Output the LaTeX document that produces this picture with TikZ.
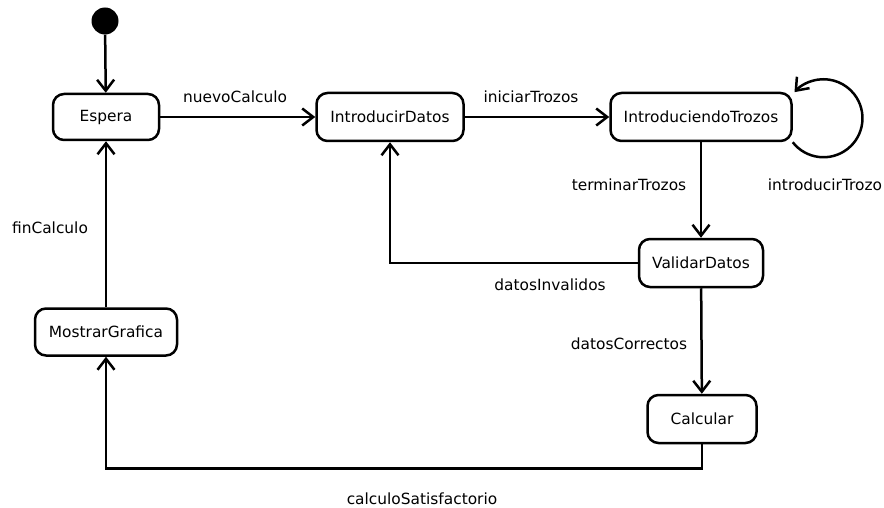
\documentclass[tikz,border=0pt]{standalone}
\usepackage{fontspec}
\setmainfont{DejaVu Sans}
\usetikzlibrary{arrows.meta}

\begin{document}
\begin{tikzpicture}[x=1pt,y=-1pt,
  state/.style={draw, line width=2.5pt, rounded corners=11pt, fill=white,
    inner sep=0pt, font=\fontsize{15.4}{18}\selectfont},
  lbl/.style={inner sep=0pt, font=\fontsize{15.4}{18}\selectfont},
  trans/.style={line width=2.5pt, -{Straight Barb[length=11pt,width=17pt,line width=2.5pt]}},
  initstate/.style={circle, fill=black, minimum size=27pt, inner sep=0pt}]

\useasboundingbox (0,0) rectangle (884,508);

% states
\node[initstate] (ini) at (105,21) {};
\node[state, minimum width=106pt, minimum height=46pt] (esp) at (106,117) {Espera};
\node[state, minimum width=147pt, minimum height=48pt] (idat) at (390,117) {IntroducirDatos};
\node[state, minimum width=181pt, minimum height=48pt] (itro) at (701,117) {IntroduciendoTrozos};
\node[state, minimum width=124pt, minimum height=48pt] (val) at (701,263) {ValidarDatos};
\node[state, minimum width=142pt, minimum height=47pt] (most) at (106,332) {MostrarGrafica};
\node[state, minimum width=109pt, minimum height=48pt] (calc) at (702,419) {Calcular};

% transitions
\draw[trans] (ini) -- (esp);
\draw[trans] (esp) -- (idat);
\draw[trans] (idat) -- (itro);
\draw[trans] (itro) -- (val);
\draw[trans] (val) -- (calc);
\draw[trans] (val.west) -| (idat.south);
\draw[trans] (calc.south) -- ++(0,24) -| (most.south);
\draw[trans] (most) -- (esp);
\draw[trans] (itro.south east) arc[start angle=142, end angle=-138, radius=39];

% transition labels
\node[lbl] (lnuevo) at (235,97) {nuevoCalculo};
\node[lbl] (linic) at (531,97) {iniciarTrozos};
\node[lbl] (lterm) at (629,185) {terminarTrozos};
\node[lbl] (lintro) at (825,185) {introducirTrozo};
\node[lbl] (linval) at (550,285) {datosInvalidos};
\node[lbl] (lcorr) at (629,344) {datosCorrectos};
\node[lbl] (lsatis) at (422,499) {calculoSatisfactorio};
\node[lbl] (lfin) at (50,228) {finCalculo};
\end{tikzpicture}
\end{document}
